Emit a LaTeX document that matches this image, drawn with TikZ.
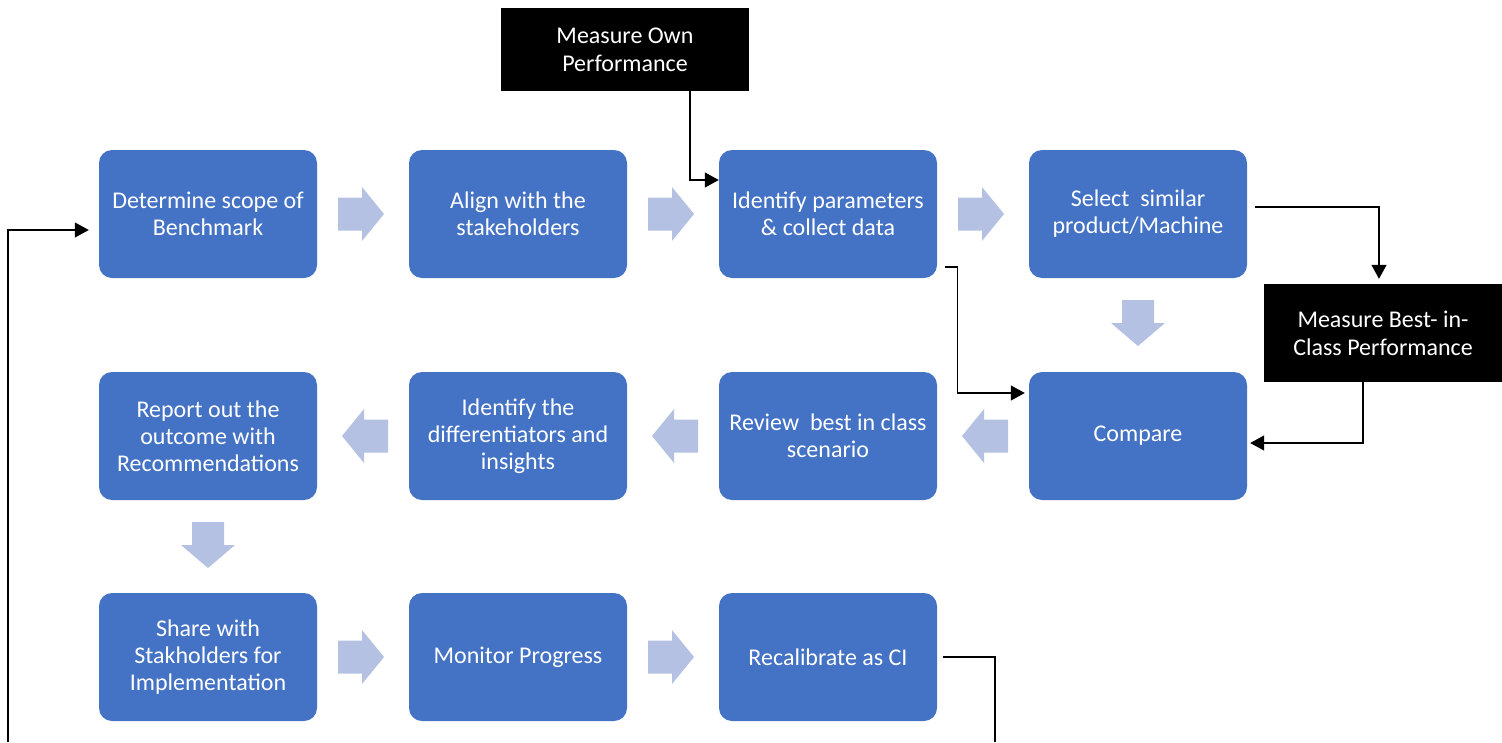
\documentclass[tikz,border=0pt]{standalone}
\usepackage{fontspec}
\setmainfont{Carlito}
\usetikzlibrary{arrows.meta}
\definecolor{boxblue}{HTML}{4472C4}
\definecolor{arrowfill}{HTML}{B4C1E3}
\begin{document}
\begin{tikzpicture}[x=1pt,y=-1pt,
  bluebox/.style={fill=boxblue, rounded corners=13pt, minimum width=218pt, minimum height=128pt,
    text=white, align=center, inner sep=2pt, font=\fontsize{24}{27}\selectfont},
  blackbox/.style={fill=black, text=white, align=center, inner sep=2pt, font=\fontsize{24}{28}\selectfont},
  conn/.style={draw=black, line width=1.3pt},
  tip/.style={-{Triangle[length=14pt,width=15pt]}},
  rarrow/.pic={\fill[arrowfill] (-23,-16.5) -- (1,-16.5) -- (1,-27) -- (23,0) -- (1,27) -- (1,16.5) -- (-23,16.5) -- cycle;},
  larrow/.pic={\fill[arrowfill] (23,-16.5) -- (-1,-16.5) -- (-1,-27) -- (-23,0) -- (-1,27) -- (-1,16.5) -- (23,16.5) -- cycle;},
  darrow/.pic={\fill[arrowfill] (-16,-23) -- (16,-23) -- (16,0) -- (27,0) -- (0,23) -- (-27,0) -- (-16,0) -- cycle;}
]
\useasboundingbox (0,0) rectangle (1502,742);
% row 1
\node[bluebox] (b1) at (208,214) {Determine scope of\\Benchmark};
\node[bluebox] (b2) at (518,214) {Align with the\\stakeholders};
\node[bluebox] (b3) at (828,214) {Identify parameters\\\& collect data};
\node[bluebox] (b4) at (1138,214) {Select\ \ similar\\product/Machine};
% row 2
\node[bluebox] (r1) at (208,436) {Report out the\\outcome with\\Recommendations};
\node[bluebox] (r2) at (518,436) {Identify the\\differentiators and\\insights};
\node[bluebox] (r3) at (828,436) {Review\ \ best in class\\scenario};
\node[bluebox] (cmp) at (1138,436) {Compare};
% row 3
\node[bluebox] (s1) at (208,657) {Share with\\Stakholders for\\Implementation};
\node[bluebox] (s2) at (518,657) {Monitor Progress};
\node[bluebox] (s3) at (828,657) {Recalibrate as CI};
% black boxes
\node[blackbox, minimum width=248pt, minimum height=83pt] (own) at (625,49.5) {Measure Own\\Performance};
\node[blackbox, minimum width=238pt, minimum height=98pt] (best) at (1383,333) {Measure Best- in-\\Class Performance};
% block arrows
\pic at (361,214) {rarrow};
\pic at (671,214) {rarrow};
\pic at (981,214) {rarrow};
\pic at (1138,323) {darrow};
\pic at (985,436) {larrow};
\pic at (675,436) {larrow};
\pic at (365,436) {larrow};
\pic at (208,545) {darrow};
\pic at (361,657) {rarrow};
\pic at (671,657) {rarrow};
% connectors
\coordinate (endA) at (995,742);
\coordinate (endB) at (8,742);
\draw[conn,tip] ([xshift=65pt]own.south) |- ([yshift=34pt]b3.west);
\draw[conn,tip] ([xshift=8pt,yshift=-53pt]b3.east) -- ++(12,0) |- ([xshift=-4pt,yshift=43pt]cmp.west);
\draw[conn,tip] ([xshift=8pt,yshift=7pt]b4.east) -| ([xshift=-4pt,yshift=5pt]best.north);
\draw[conn,tip] ([xshift=-20pt]best.south) |- ([xshift=3pt,yshift=-7pt]cmp.east);
\draw[conn] ([xshift=6pt]s3.east) -| (endA);
\draw[conn,tip] (endB) |- ([xshift=-10pt,yshift=-16pt]b1.west);
\end{tikzpicture}
\end{document}
